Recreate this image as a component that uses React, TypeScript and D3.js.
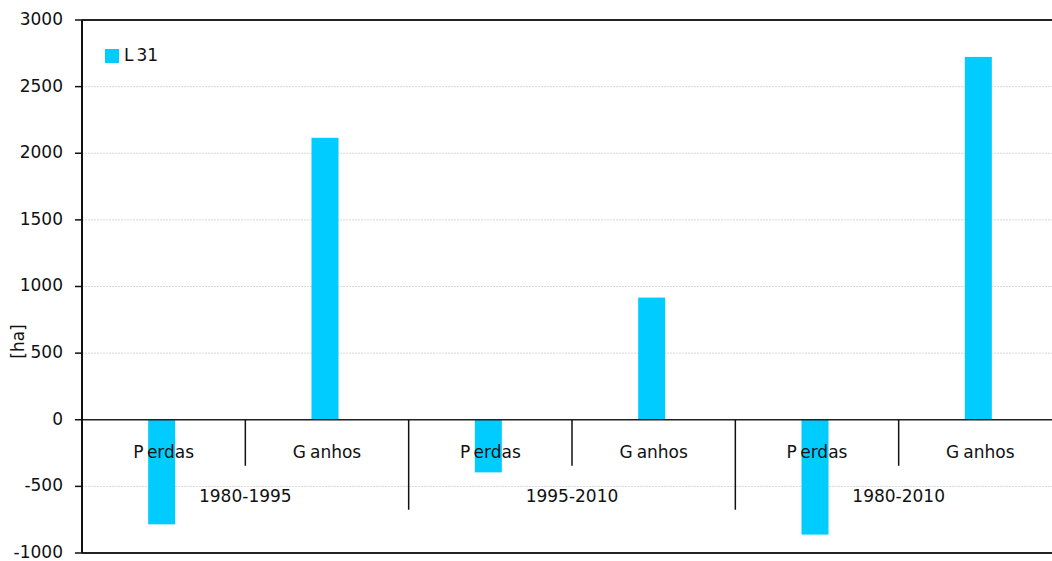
import React from "react";
import * as d3 from "d3";

const periods = ["1980-1995", "1995-2010", "1980-2010"];
const subCategories = ["Perdas", "Ganhos"];
const seriesName = "L31";
const values = [-785, 2116, -395, 917, -862, 2723];
const yTicks = [-1000, -500, 0, 500, 1000, 1500, 2000, 2500, 3000];

const W = 1052;
const H = 561;
const margin = { left: 82, right: -10, top: 20, bottom: 8 };
const FONT = "DejaVu Sans, sans-serif";
const FS = 17;
const BAR = "#00CCFF";

export default function App() {
  const cats = periods.flatMap((p) => subCategories.map((s) => `${p}|${s}`));
  const x = d3
    .scaleBand<string>()
    .domain(cats)
    .range([margin.left, W - margin.right])
    .paddingInner(0)
    .paddingOuter(0);
  const y = d3
    .scaleLinear()
    .domain([-1000, 3000])
    .range([H - margin.bottom, margin.top]);
  const bw = 27;
  const y0 = y(0);
  const right = W;

  return (
    <svg
      width={W}
      height={H}
      style={{ position: "absolute", left: 0, top: 0, background: "#fff" }}
      fontFamily={FONT}
    >
      {yTicks.map((t) => (
        <line
          key={"g" + t}
          x1={margin.left}
          x2={right}
          y1={y(t)}
          y2={y(t)}
          stroke={t === 3000 || t === -1000 ? "#222" : "#d8d8d8"}
          strokeWidth={t === 3000 || t === -1000 ? 2 : 1}
          strokeDasharray={t === 3000 || t === -1000 ? undefined : "2,1"}
        />
      ))}
      {values.map((v, i) => {
        const c = cats[i];
        const cx = (x(c) as number) + x.bandwidth() / 2 - 2;
        return (
          <rect
            key={c}
            x={cx - bw / 2}
            width={bw}
            y={Math.min(y(v), y0)}
            height={Math.abs(y(v) - y0)}
            fill={BAR}
          />
        );
      })}
      <line x1={margin.left} x2={right} y1={y0} y2={y0} stroke="#222" strokeWidth={1.5} />
      <line x1={margin.left} x2={margin.left} y1={y(3000)} y2={y(-1000)} stroke="#111" strokeWidth={2} />
      {yTicks.map((t) => (
        <g key={"t" + t}>
          <line x1={margin.left - 7} x2={margin.left} y1={y(t)} y2={y(t)} stroke="#111" strokeWidth={1.5} />
          <text
            x={margin.left - 19}
            y={y(t) - 1}
            dy="0.35em"
            textAnchor="end"
            fontSize={FS}
            fill="#111"
          >
            {t}
          </text>
        </g>
      ))}
      {cats.map((c, i) => {
        if (i === 0) return null;
        const xx = x(c) as number;
        const long = i % 2 === 0;
        return (
          <line
            key={"d" + c}
            x1={xx}
            x2={xx}
            y1={y0}
            y2={long ? y0 + 90 : y0 + 46}
            stroke="#111"
            strokeWidth={1.5}
          />
        );
      })}
      {cats.map((c) => {
        const s = c.split("|")[1];
        const cx = (x(c) as number) + x.bandwidth() / 2;
        return (
          <text key={"l" + c} x={cx} y={y0 + 38} textAnchor="middle" fontSize={FS} fill="#111">
            <tspan>{s[0]}</tspan>
            <tspan dx={4}>{s.slice(1)}</tspan>
          </text>
        );
      })}
      {periods.map((p, i) => {
        const x1 = x(cats[i * 2]) as number;
        const cx = x1 + x.bandwidth();
        return (
          <text key={"p" + p} x={cx} y={y0 + 82} textAnchor="middle" fontSize={FS} fill="#111">
            {p}
          </text>
        );
      })}
      <text
        transform={`translate(${24},${(y(3000) + y(-1000)) / 2 + 55}) rotate(-90)`}
        textAnchor="middle"
        fontSize={FS}
        fill="#111"
      >
        [ha]
      </text>
      <rect x={105} y={49} width={14} height={14} fill={BAR} />
      <text x={124} y={55} dy="0.35em" fontSize={FS} fill="#111">
        <tspan>{seriesName[0]}</tspan>
        <tspan dx={3}>{seriesName.slice(1)}</tspan>
      </text>
    </svg>
  );
}
